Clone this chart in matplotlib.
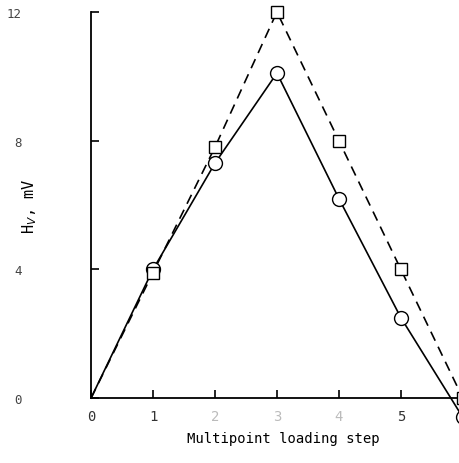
import matplotlib
matplotlib.use('Agg')
import matplotlib.pyplot as plt

steps = [0, 1, 2, 3, 4, 5, 6]
hv_circles = [0.0, 4.0, 7.3, 10.1, 6.2, 2.5, -0.6]
hv_squares = [0.0, 3.9, 7.8, 12.0, 8.0, 4.0, 0.0]
x_ticks = [0, 1, 2, 3, 4, 5]
y_ticks = [0, 4, 8, 12]

plt.rcParams['font.family'] = ['DejaVu Sans Mono']

fig = plt.figure(figsize=(4.6, 4.64), dpi=100)
ax = fig.add_axes([0.198, 0.140, 0.835, 0.832])

# solid line with open circles
ax.plot(steps, hv_circles, '-', color='black', lw=1.2, clip_on=False, zorder=2)
ax.plot(steps[1:], hv_circles[1:], 'o', ms=10, mfc='white', mec='black',
        mew=1.0, clip_on=False, zorder=3)
# dashed line with open squares
ax.plot(steps, hv_squares, '--', color='black', lw=1.2, dashes=(6, 4),
        clip_on=False, zorder=2)
ax.plot(steps[1:], hv_squares[1:], 's', ms=8, mfc='white', mec='black',
        mew=1.0, clip_on=False, zorder=3)

ax.set_xlim(0, 6.2)
ax.set_ylim(0, 12)
for side in ['top', 'right']:
    ax.spines[side].set_visible(False)
for side in ['left', 'bottom']:
    ax.spines[side].set_linewidth(1.3)

ax.set_xticks(x_ticks)
ax.set_yticks(y_ticks)
ax.set_xticklabels([str(t) for t in x_ticks], fontsize=10, color='#333333')
ax.set_yticklabels([str(t) for t in y_ticks], fontsize=9, color='#444444')
ax.tick_params(axis='x', direction='in', length=6, width=1.2, pad=8)
ax.tick_params(axis='y', direction='in', length=6, width=1.2, pad=50)
for lbl in ax.get_xticklabels()[2:5]:
    lbl.set_color('#bbbbbb')

ax.set_xlabel('Multipoint loading step', fontsize=10, labelpad=6)
ax.set_ylabel('H$_V$, mV', fontsize=11)
ax.yaxis.set_label_coords(-0.135, 0.5)

fig.savefig('out.png', dpi=100)
